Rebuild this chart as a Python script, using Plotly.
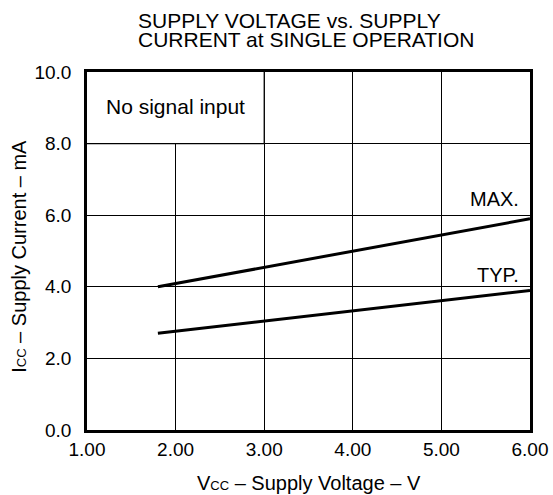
import plotly.graph_objects as go

vcc = [1.8, 6.0]
icc_max = [4.0, 5.9]
icc_typ = [2.7, 3.9]
x_ticks = [1, 2, 3, 4, 5, 6]
x_labels = ["1.00", "2.00", "3.00", "4.00", "5.00", "6.00"]
y_ticks = [0, 2, 4, 6, 8, 10]
y_labels = ["0.0", "2.0", "4.0", "6.0", "8.0", "10.0"]

FONT = "Liberation Sans, Arial, Helvetica, sans-serif"
BLK = "black"

fig = go.Figure()
fig.add_trace(go.Scatter(x=vcc, y=icc_max, mode="lines",
                         line=dict(color=BLK, width=3), showlegend=False))
fig.add_trace(go.Scatter(x=vcc, y=icc_typ, mode="lines",
                         line=dict(color=BLK, width=3), showlegend=False))

shapes = [
    dict(type="rect", xref="x", yref="y", x0=1, x1=3, y0=8, y1=10,
         fillcolor="white", line=dict(width=0), layer="above"),
    dict(type="line", xref="x", yref="y", x0=3, x1=3, y0=8, y1=10,
         line=dict(color=BLK, width=1.2), layer="above"),
    dict(type="line", xref="x", yref="y", x0=1, x1=3, y0=8, y1=8,
         line=dict(color=BLK, width=1.2), layer="above"),
]
fig.update_layout(shapes=shapes)

def ann(**kw):
    kw.setdefault("showarrow", False)
    fig.add_annotation(**kw)

ann(x=2.0, y=9.04, xref="x", yref="y", text="No signal input",
    font=dict(family=FONT, size=21, color=BLK))
ann(x=5.9, y=6.09, xref="x", yref="y", text="MAX.", xanchor="right",
    yanchor="bottom", font=dict(family=FONT, size=20, color=BLK))
ann(x=5.9, y=3.98, xref="x", yref="y", text="TYP.", xanchor="right",
    yanchor="bottom", font=dict(family=FONT, size=20, color=BLK))

# title (two lines, left-aligned, tight leading)
ann(x=0.111, y=1.1445, xref="paper", yref="paper", xanchor="left", yanchor="middle",
    text="SUPPLY VOLTAGE vs. SUPPLY", font=dict(family=FONT, size=21, color=BLK))
ann(x=0.111, y=1.0908, xref="paper", yref="paper", xanchor="left", yanchor="middle",
    text="CURRENT at SINGLE OPERATION", font=dict(family=FONT, size=21, color=BLK))

# axis titles
ann(x=0.502, y=-0.148, xref="paper", yref="paper", xanchor="center", yanchor="middle",
    text="V<span style='font-size:13px'>CC</span> – Supply Voltage – V",
    font=dict(family=FONT, size=20, color=BLK))
ann(x=-0.154, y=0.486, xref="paper", yref="paper", xanchor="center", yanchor="middle",
    textangle=-90,
    text="I<span style='font-size:13px'>CC</span> – Supply Current – mA",
    font=dict(family=FONT, size=20, color=BLK))

fig.update_layout(
    width=553, height=495,
    paper_bgcolor="white", plot_bgcolor="white",
    margin=dict(l=87, r=23, t=72, b=65, autoexpand=False),
    font=dict(family=FONT, color=BLK),
    xaxis=dict(range=[1, 6], tickvals=x_ticks, ticktext=x_labels,
               showgrid=True, gridcolor=BLK, gridwidth=1.2,
               showline=True, linecolor=BLK, linewidth=2.5, mirror=True,
               ticks="", zeroline=False, automargin=False,
               tickfont=dict(family=FONT, size=19, color=BLK)),
    yaxis=dict(range=[0, 10], tickvals=y_ticks, ticktext=y_labels,
               showgrid=True, gridcolor=BLK, gridwidth=1.2,
               showline=True, linecolor=BLK, linewidth=2.5, mirror=True,
               ticks="", zeroline=False, automargin=False, ticklabelstandoff=9,
               tickfont=dict(family=FONT, size=19, color=BLK)),
)

fig.write_html(
    "out.html",
    config={"displayModeBar": False},
    post_script="document.body.style.margin='0';document.body.style.overflow='hidden';",
)
